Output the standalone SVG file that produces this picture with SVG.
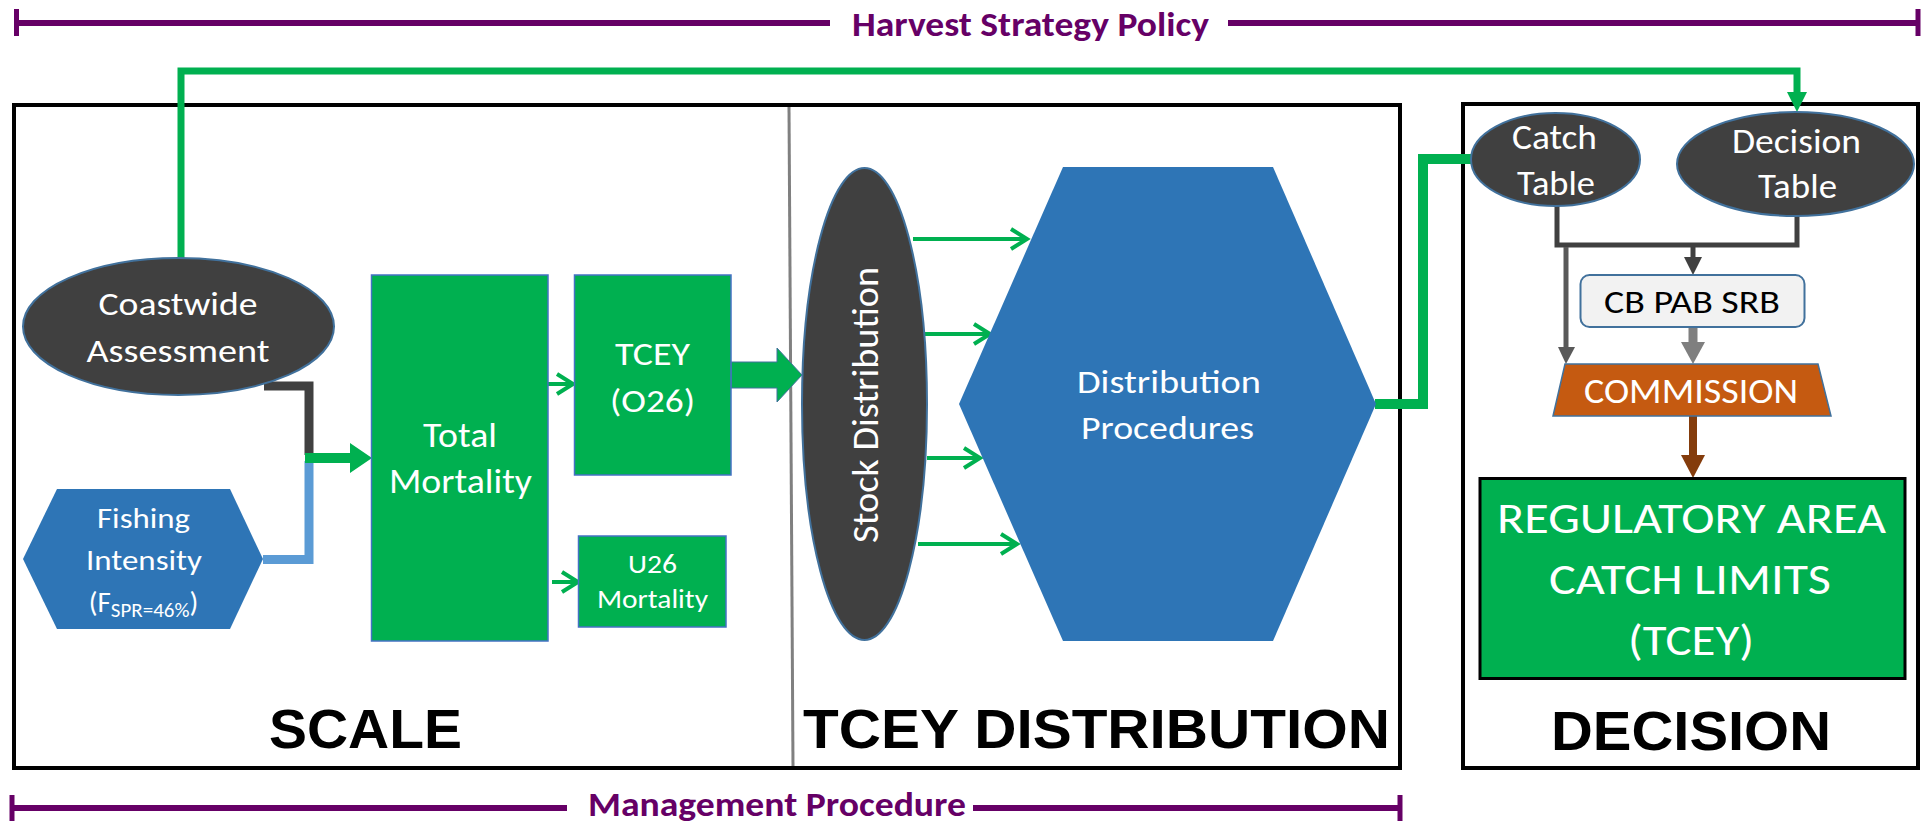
<svg xmlns="http://www.w3.org/2000/svg" width="1923" height="822" viewBox="0 0 1923 822">
<defs>
<style>
.t{font-family:Carlito,Lato,"Liberation Sans",sans-serif;fill:#fff;text-anchor:middle}
.blk{fill:#000}
.ttl{font-family:Carlito,Lato,"Liberation Sans",sans-serif;font-weight:bold;fill:#660066;text-anchor:middle;font-size:34px}
.sec{font-family:"Liberation Sans",Arial,sans-serif;font-weight:bold;fill:#000;text-anchor:middle;font-size:56px}
.pl{stroke:#660066;stroke-width:6;fill:none}
.pt{stroke:#660066;stroke-width:5;fill:none}
.frame{fill:none;stroke:#000;stroke-width:4}
.ell{fill:#404040;stroke:#41719C;stroke-width:2}
.grn{fill:#00B050;stroke:#4472C4;stroke-width:1.5}
.hex{fill:#2E75B6}
.gl{fill:none;stroke:#00B050;stroke-width:4}
.gthick{fill:none;stroke:#00B050;stroke-width:10}
</style>
<marker id="open" markerUnits="userSpaceOnUse" markerWidth="24" markerHeight="26" viewBox="0 0 24 26" refX="20" refY="13" orient="auto">
<path d="M4,3 L20,13 L4,23" fill="none" stroke="#00B050" stroke-width="4"/>
</marker>
</defs>
<rect width="1923" height="822" fill="#fff"/>

<g id="harvest-strategy-policy">
<line class="pl" x1="16" y1="23" x2="830" y2="23"/>
<line class="pt" x1="16.5" y1="9" x2="16.5" y2="36"/>
<line class="pl" x1="1228" y1="23" x2="1918" y2="23"/>
<line class="pt" x1="1918" y1="9" x2="1918" y2="36"/>
<text class="ttl" x="1030.5" y="36" textLength="357" lengthAdjust="spacingAndGlyphs">Harvest Strategy Policy</text>
</g>

<g id="management-procedure">
<line class="pl" x1="12" y1="808" x2="567" y2="808"/>
<line class="pt" x1="12" y1="795" x2="12" y2="821"/>
<line class="pl" x1="973" y1="808" x2="1400" y2="808"/>
<line class="pt" x1="1400" y1="795" x2="1400" y2="821"/>
<text class="ttl" x="777" y="816" textLength="378" lengthAdjust="spacingAndGlyphs">Management Procedure</text>
</g>

<g id="frames">
<rect class="frame" x="14" y="105" width="1386" height="663"/>
<line x1="789" y1="107" x2="793" y2="766" stroke="#808080" stroke-width="3"/>
<rect class="frame" x="1463" y="104" width="455" height="664"/>
<text class="sec" x="365.5" y="748" textLength="193" lengthAdjust="spacingAndGlyphs">SCALE</text>
<text class="sec" x="1096.5" y="748" textLength="587" lengthAdjust="spacingAndGlyphs">TCEY DISTRIBUTION</text>
<text class="sec" x="1691" y="750" textLength="280" lengthAdjust="spacingAndGlyphs">DECISION</text>
</g>

<g id="connectors">
<path d="M181,258 V71 H1797 V95" fill="none" stroke="#00B050" stroke-width="7"/>
<polygon points="1787,92 1807,92 1797,112" fill="#00B050"/>
<path d="M264,386 H309 V455" fill="none" stroke="#404040" stroke-width="9"/>
<path d="M263,559.5 H309 V461" fill="none" stroke="#5B9BD5" stroke-width="9"/>
<polygon points="305,453 350,453 350,443 372,458 350,473 350,463 305,463" fill="#00B050"/>
<line class="gl" x1="548" y1="384" x2="573" y2="384" marker-end="url(#open)"/>
<line class="gl" x1="552" y1="582" x2="578" y2="582" marker-end="url(#open)"/>
<polygon points="731,362 777,362 777,348 802,375 777,402 777,388 731,388" fill="#00B050" stroke="#41719C" stroke-width="1"/>
<line class="gl" x1="913" y1="239" x2="1027" y2="239" marker-end="url(#open)"/>
<line class="gl" x1="925" y1="334" x2="990" y2="334" marker-end="url(#open)"/>
<line class="gl" x1="927" y1="458" x2="980" y2="458" marker-end="url(#open)"/>
<line class="gl" x1="918" y1="544" x2="1017" y2="544" marker-end="url(#open)"/>
<path class="gthick" d="M1375,404 H1423 V159 H1472"/>
<path d="M1557,206 V245 H1797 V216" fill="none" stroke="#404040" stroke-width="5"/>
<line x1="1693" y1="245" x2="1693" y2="259" stroke="#404040" stroke-width="5"/>
<polygon points="1684,257 1702,257 1693,275" fill="#404040"/>
<line x1="1566" y1="247" x2="1566" y2="349" stroke="#595959" stroke-width="5"/>
<polygon points="1558,347 1575,347 1566,364" fill="#595959"/>
<line x1="1693" y1="327" x2="1693" y2="344" stroke="#7F7F7F" stroke-width="9"/>
<polygon points="1681,342 1705,342 1693,364" fill="#7F7F7F"/>
<line x1="1693" y1="416" x2="1693" y2="457" stroke="#843C0C" stroke-width="8"/>
<polygon points="1681,455 1705,455 1693,478" fill="#843C0C"/>
</g>

<g id="coastwide-assessment">
<ellipse class="ell" cx="178.5" cy="326.5" rx="155.5" ry="68.5"/>
<text class="t" x="178" y="315" font-size="33" textLength="159" lengthAdjust="spacingAndGlyphs">Coastwide</text>
<text class="t" x="178" y="362" font-size="33" textLength="183" lengthAdjust="spacingAndGlyphs">Assessment</text>
</g>

<g id="fishing-intensity">
<polygon class="hex" points="57,489 230,489 263,559 230,629 57,629 23,559"/>
<text class="t" x="143.5" y="528" font-size="29" textLength="93" lengthAdjust="spacingAndGlyphs">Fishing</text>
<text class="t" x="144" y="570" font-size="29" textLength="116" lengthAdjust="spacingAndGlyphs">Intensity</text>
<text class="t" x="143.5" y="612" font-size="29">(F<tspan font-size="21" dy="5">SPR=46%</tspan><tspan dy="-5">)</tspan></text>
</g>

<g id="total-mortality">
<rect class="grn" x="371.5" y="275" width="176.5" height="366"/>
<text class="t" x="460" y="447" font-size="34" textLength="74" lengthAdjust="spacingAndGlyphs">Total</text>
<text class="t" x="460.5" y="493" font-size="34" textLength="143" lengthAdjust="spacingAndGlyphs">Mortality</text>
</g>

<g id="tcey-o26">
<rect class="grn" x="574.5" y="275" width="156.5" height="200"/>
<text class="t" x="652.5" y="365" font-size="33" textLength="75" lengthAdjust="spacingAndGlyphs">TCEY</text>
<text class="t" x="652.5" y="412" font-size="33" textLength="85" lengthAdjust="spacingAndGlyphs">(O26)</text>
</g>

<g id="u26-mortality">
<rect class="grn" x="578.5" y="536" width="147.5" height="91"/>
<text class="t" x="652.5" y="573" font-size="26" textLength="49" lengthAdjust="spacingAndGlyphs">U26</text>
<text class="t" x="652.5" y="608" font-size="26" textLength="111" lengthAdjust="spacingAndGlyphs">Mortality</text>
</g>

<g id="stock-distribution">
<ellipse class="ell" cx="864.5" cy="404" rx="62.5" ry="236"/>
<text class="t" transform="translate(878,405) rotate(-90)" x="0" y="0" font-size="36" textLength="276" lengthAdjust="spacingAndGlyphs">Stock Distribution</text>
</g>

<g id="distribution-procedures">
<polygon class="hex" points="1063,167 1273,167 1376,404 1273,641 1063,641 959,404"/>
<text class="t" x="1169" y="393" font-size="33" textLength="184" lengthAdjust="spacingAndGlyphs">Distribution</text>
<text class="t" x="1167.5" y="439" font-size="33" textLength="173" lengthAdjust="spacingAndGlyphs">Procedures</text>
</g>

<g id="catch-table">
<ellipse class="ell" cx="1555.5" cy="159.5" rx="84.5" ry="46.5"/>
<text class="t" x="1554.5" y="149" font-size="34" textLength="85" lengthAdjust="spacingAndGlyphs">Catch</text>
<text class="t" x="1556" y="195" font-size="34" textLength="78" lengthAdjust="spacingAndGlyphs">Table</text>
</g>

<g id="decision-table">
<ellipse class="ell" cx="1795.5" cy="164" rx="118.5" ry="52"/>
<text class="t" x="1796.5" y="153" font-size="34" textLength="129" lengthAdjust="spacingAndGlyphs">Decision</text>
<text class="t" x="1797.5" y="198" font-size="34" textLength="79" lengthAdjust="spacingAndGlyphs">Table</text>
</g>

<g id="cb-pab-srb">
<rect x="1580.5" y="275" width="224" height="52" rx="9" fill="#F2F2F2" stroke="#41719C" stroke-width="2"/>
<text class="t blk" x="1692" y="313" font-size="33" textLength="176" lengthAdjust="spacingAndGlyphs">CB PAB SRB</text>
</g>

<g id="commission">
<polygon points="1565,364 1818,364 1831,416 1553,416" fill="#C55A11" stroke="#41719C" stroke-width="1.5"/>
<text class="t" x="1691" y="403" font-size="34" textLength="214" lengthAdjust="spacingAndGlyphs">COMMISSION</text>
</g>

<g id="regulatory-area-catch-limits">
<rect x="1480" y="478.5" width="425" height="200" fill="#00B050" stroke="#000" stroke-width="3"/>
<text class="t" x="1691.5" y="533" font-size="43" textLength="389" lengthAdjust="spacingAndGlyphs">REGULATORY AREA</text>
<text class="t" x="1690" y="594" font-size="43" textLength="282" lengthAdjust="spacingAndGlyphs">CATCH LIMITS</text>
<text class="t" x="1691" y="655" font-size="43" textLength="126" lengthAdjust="spacingAndGlyphs">(TCEY)</text>
</g>
</svg>
